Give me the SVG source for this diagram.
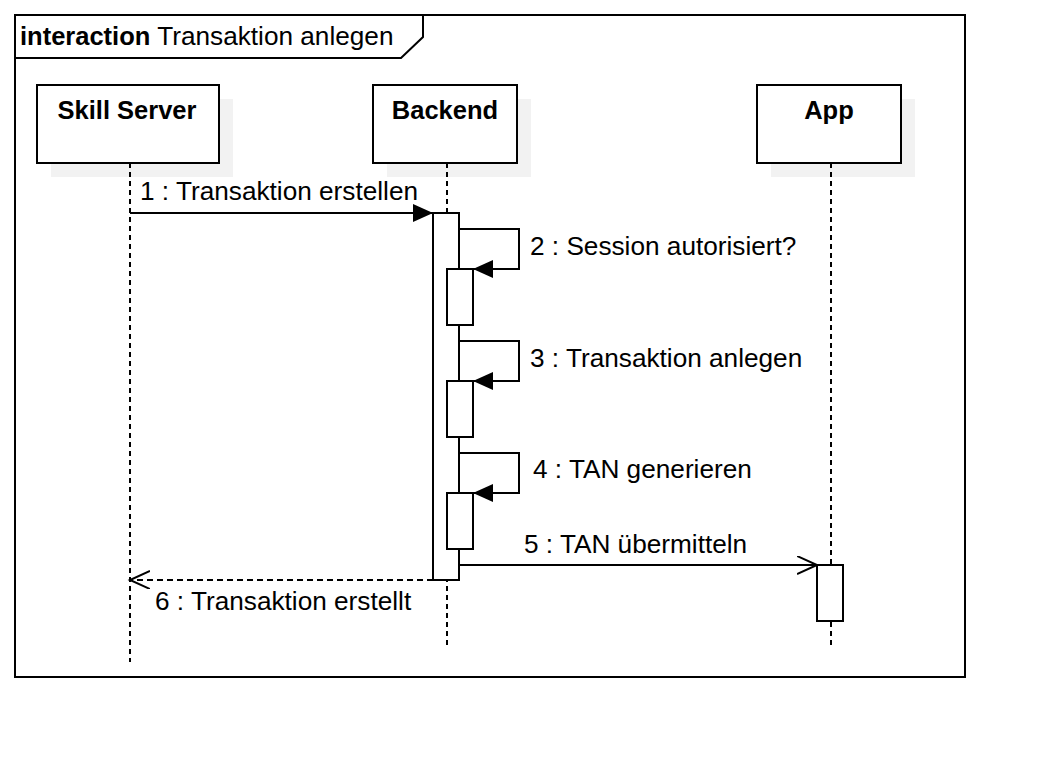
<svg xmlns="http://www.w3.org/2000/svg" width="1050" height="762" viewBox="0 0 1050 762">
<defs>
<style>
.t{font-family:"Liberation Sans",Arial,sans-serif;font-size:26.2px;fill:#000}
.b{font-weight:bold;font-size:25.5px}
.box{fill:#fff;stroke:#000;stroke-width:2}
.sh{fill:#f2f2f2}
.life{stroke:#000;stroke-width:2;stroke-dasharray:5 4;fill:none}
.msg{stroke:#000;stroke-width:2;fill:none}
.act{fill:#fff;stroke:#000;stroke-width:2}
</style>
<marker id="filled" markerWidth="22" markerHeight="20" refX="20" refY="9" orient="auto" markerUnits="userSpaceOnUse">
<path d="M0,0 L20,9 L0,18 Z" fill="#000"/>
</marker>
<marker id="open" markerWidth="24" markerHeight="22" refX="20" refY="9" orient="auto" markerUnits="userSpaceOnUse">
<path d="M0,0 L20,9 L0,18" fill="none" stroke="#000" stroke-width="2"/>
</marker>
</defs>
<rect width="1050" height="762" fill="#fff"/>
<g id="frame">
<rect x="15" y="15" width="950" height="662" fill="none" stroke="#000" stroke-width="2"/>
<path d="M15,58 H401 L423,37 V15" fill="none" stroke="#000" stroke-width="2"/>
<text class="t" x="20" y="45"><tspan class="b">interaction</tspan> Transaktion anlegen</text>
</g>
<g id="skill-server">
<rect class="sh" x="51" y="99" width="182" height="78"/>
<line class="life" x1="130" y1="163" x2="130" y2="662"/>
<rect class="box" x="37" y="85" width="182" height="78"/>
<text class="t b" x="127" y="119" text-anchor="middle">Skill Server</text>
</g>
<g id="backend">
<rect class="sh" x="387" y="99" width="144" height="78"/>
<line class="life" x1="447" y1="163" x2="447" y2="649"/>
<rect class="box" x="373" y="85" width="144" height="78"/>
<text class="t b" x="445" y="119" text-anchor="middle">Backend</text>
<rect class="act" x="433" y="213" width="26" height="367"/>
<rect class="act" x="447" y="269" width="26" height="56"/>
<rect class="act" x="447" y="381" width="26" height="56"/>
<rect class="act" x="447" y="493" width="26" height="56"/>
</g>
<g id="app">
<rect class="sh" x="771" y="99" width="144" height="78"/>
<line class="life" x1="831" y1="163" x2="831" y2="649"/>
<rect class="box" x="757" y="85" width="144" height="78"/>
<text class="t b" x="829" y="119" text-anchor="middle">App</text>
<rect class="act" x="817" y="565" width="26" height="56"/>
</g>
<g id="connectors">
<line class="msg" x1="130" y1="213" x2="433" y2="213" marker-end="url(#filled)"/>
<text class="t" x="140" y="200">1 : Transaktion erstellen</text>
<path class="msg" d="M459,229 H519 V269 H473" marker-end="url(#filled)"/>
<text class="t" x="530" y="255">2 : Session autorisiert?</text>
<path class="msg" d="M459,341 H519 V381 H473" marker-end="url(#filled)"/>
<text class="t" x="530" y="367">3 : Transaktion anlegen</text>
<path class="msg" d="M459,453 H519 V493 H473" marker-end="url(#filled)"/>
<text class="t" x="533" y="478">4 : TAN generieren</text>
<line class="msg" x1="459" y1="565" x2="817" y2="565" marker-end="url(#open)"/>
<text class="t" x="524" y="553">5 : TAN übermitteln</text>
<line class="msg" x1="433" y1="580" x2="130" y2="580" stroke-dasharray="6 4" marker-end="url(#open)"/>
<text class="t" x="155" y="610">6 : Transaktion erstellt</text>
</g>
</svg>
